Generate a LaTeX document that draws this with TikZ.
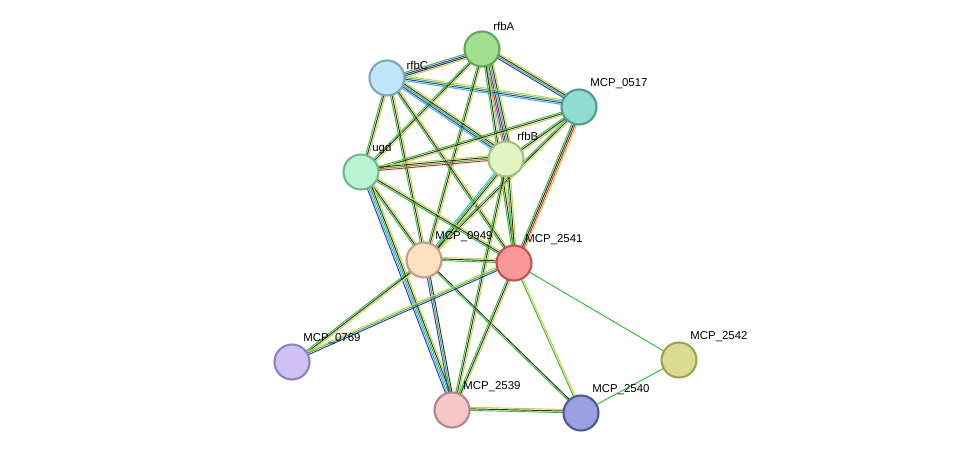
\documentclass[tikz,border=0pt]{standalone}
\usepackage{fontspec}
\setmainfont{Liberation Sans}
\usetikzlibrary{calc}
\definecolor{cgr}{HTML}{30C030}
\definecolor{cyl}{HTML}{C8D040}
\definecolor{cbl}{HTML}{3030E0}
\definecolor{ccy}{HTML}{30B8E0}
\definecolor{crd}{HTML}{E02020}
\definecolor{cbk}{HTML}{303030}
\tikzset{
  prot/.style n args={2}{circle,minimum size=0.7cm,inner sep=0pt,line width=1.2pt,
    /utils/exec={\definecolor{pfill}{HTML}{#1}\definecolor{pdraw}{HTML}{#2}},
    draw=pdraw,fill=pfill},
  lbl/.style={label={[font=\fontsize{6.5}{7}\selectfont,inner sep=1pt]60:#1}},
}
% parallel coloured strands between two nodes
\newcommand\strands[3]{%
  \foreach \c [count=\i] in {#3} {
    \pgfmathsetmacro\off{(\i-1)*0.9}
    \draw[\c,line width=0.55pt] ($(#1)!\off pt!90:(#2)$) -- ($(#2)!\off pt!-90:(#1)$);
  }}
\begin{document}
\begin{tikzpicture}[x=0.02cm,y=-0.02cm]
  \useasboundingbox (0,0) rectangle (975,459);
  % proteins
  \coordinate (rfbA) at (482,49);
  \coordinate (rfbC) at (387,78);
  \coordinate (m0517) at (579,107);
  \coordinate (rfbB) at (506,159);
  \coordinate (ugd) at (361,172);
  \coordinate (m0949) at (424,260);
  \coordinate (m2541) at (514,263);
  \coordinate (m0769) at (292,362);
  \coordinate (m2542) at (679,360);
  \coordinate (m2539) at (452,410);
  \coordinate (m2540) at (581,413);
  % edges
  \strands{rfbA}{rfbC}{cgr,cbl,cbk,cyl}
  \strands{rfbA}{rfbB}{ccy,crd,cbl,cgr,cbk,cyl}
  \strands{rfbA}{m0517}{cbl,cgr,cbk,cyl}
  \strands{rfbC}{m0517}{ccy,cbl,cgr,cyl}
  \strands{rfbA}{ugd}{cgr,cbk,cyl}
  \strands{rfbA}{m0949}{cgr,cbk,cyl}
  \strands{rfbA}{m2541}{cgr,cbk,cyl}
  \strands{rfbC}{rfbB}{ccy,cbl,cgr,cbk,cyl}
  \strands{rfbC}{ugd}{cgr,cbk,cyl}
  \strands{rfbC}{m0949}{cgr,cbk,cyl}
  \strands{rfbC}{m2541}{cgr,cbk,cyl}
  \strands{m0517}{rfbB}{cgr,cbk,cyl}
  \strands{m0517}{ugd}{cgr,cbk,cyl}
  \strands{m0517}{m0949}{cgr,cbk,cyl}
  \strands{m0517}{m2541}{cgr,cbk,crd,cyl}
  \strands{ugd}{rfbB}{crd,cgr,cbk,cyl}
  \strands{rfbB}{m0949}{ccy,cgr,cbk,cyl}
  \strands{rfbB}{m2541}{cgr,cbk,cyl}
  \strands{rfbB}{m2539}{cgr,cbk,cyl}
  \strands{ugd}{m0949}{cgr,cbk,cyl}
  \strands{ugd}{m2541}{cgr,cbk,cyl}
  \strands{ugd}{m2539}{cbl,ccy,cgr,cbk,cyl}
  \strands{m0949}{m2541}{cgr,cbk,cyl}
  \strands{m0949}{m0769}{cgr,cbk,cyl}
  \strands{m0949}{m2539}{cbl,cgr,cbk}
  \strands{m0949}{m2540}{cgr,cbk}
  \strands{m0769}{m2541}{cbl,cgr,cyl}
  \strands{m2541}{m2539}{cgr,cbk,cyl}
  \strands{m2541}{m2540}{cgr,cyl}
  \strands{m2541}{m2542}{cgr}
  \strands{m2540}{m2542}{cgr}
  \strands{m2539}{m2540}{cgr,cbk,cyl}
  % nodes
  \node[prot={A0E090}{60A858},lbl=rfbA] (nA) at (rfbA) {};
  \node[prot={C0E6FA}{7AA6C0},label={[font=\fontsize{6.5}{7}\selectfont,inner sep=1pt]20:rfbC}] (nC) at (rfbC) {};
  \node[prot={90DCD0}{4A9E90},lbl=MCP\_0517] (n0517) at (m0517) {};
  \node[prot={E0F5C0}{A0C080},lbl=rfbB] (nB) at (rfbB) {};
  \node[prot={B8F5D0}{70B890},lbl=ugd] (nugd) at (ugd) {};
  \node[prot={FDE0C0}{C0A080},lbl=MCP\_0949] (n0949) at (m0949) {};
  \node[prot={F89898}{C05050},lbl=MCP\_2541] (n2541) at (m2541) {};
  \node[prot={D0C0F8}{9080C0},lbl=MCP\_0769] (n0769) at (m0769) {};
  \node[prot={DCDC90}{A0A050},lbl=MCP\_2542] (n2542) at (m2542) {};
  \node[prot={F8C8C8}{B08888},lbl=MCP\_2539] (n2539) at (m2539) {};
  \node[prot={98A0E0}{505890},lbl=MCP\_2540] (n2540) at (m2540) {};
\end{tikzpicture}
\end{document}
